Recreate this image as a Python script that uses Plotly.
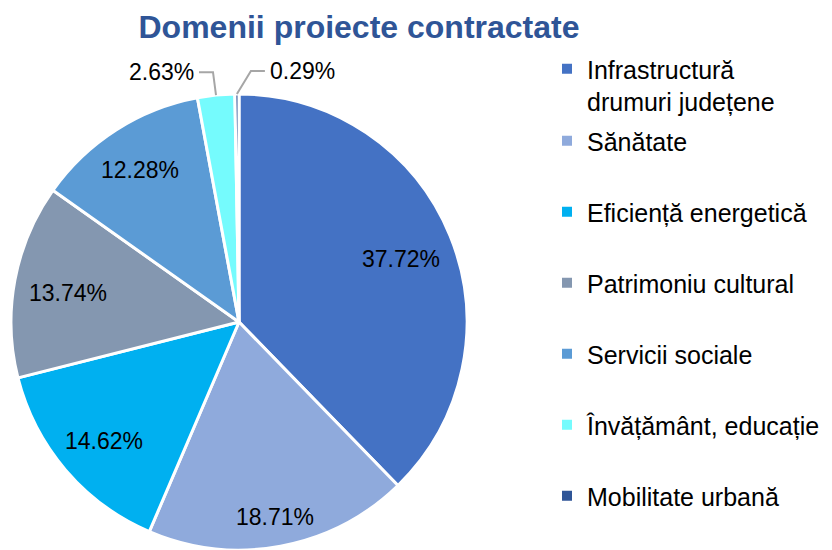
import math
import plotly.graph_objects as go

# ---- data ----
categories = [
    "Infrastructură<br>drumuri județene",
    "Sănătate",
    "Eficiență energetică",
    "Patrimoniu cultural",
    "Servicii sociale",
    "Învățământ, educație",
    "Mobilitate urbană",
]
shares = [37.72, 18.71, 14.62, 13.74, 12.28, 2.63, 0.29]
colors = ["#4472C4", "#8FAADC", "#00B0F0", "#8497B0", "#5B9BD5", "#75FBFD", "#2F5597"]
outside = [False, False, False, False, False, True, True]

W, H = 832, 550
FONT = "Liberation Sans, Arial, sans-serif"

# pie geometry (layout)
cx_px, R_px = 239, 228
dom_x = [(cx_px - R_px - 2) / W, (cx_px + R_px + 2) / W]
dom_y = [0, 2 * R_px / H]
cy_px = H - R_px

labels_txt = [f"{v:.2f}%" for v in shares]

fig = go.Figure()
fig.add_trace(go.Pie(
    labels=categories,
    values=shares,
    sort=False,
    direction="clockwise",
    rotation=0,
    marker=dict(colors=colors, line=dict(color="white", width=3)),
    textinfo="none",
    domain=dict(x=dom_x, y=dom_y),
    showlegend=False,
    hoverinfo="label+percent",
))

# legend entries (one per category) via empty marker traces
for i, (c, col) in enumerate(zip(categories, colors)):
    fig.add_trace(go.Scatter(
        x=[None], y=[None], mode="markers",
        marker=dict(symbol="square", size=10, color=col),
        name=c, legendgroup=f"g{i}",
        legend="legend" if i == 0 else "legend2",
        showlegend=True, hoverinfo="skip",
    ))

# data labels, anchored at each slice's mid-angle
LABEL_FONT = dict(family=FONT, size=23, color="black")
HALF_W, HALF_H, RIM_GAP = 40, 9, 13
total = sum(shares)
cum = 0
shapes = []
annotations = []
for i, v in enumerate(shares):
    mid = (cum + v / 2) / total * 360
    cum += v
    a = math.radians(mid)
    ux, uy = math.sin(a), -math.cos(a)
    if not outside[i]:
        # push the label box outward until its far corner is RIM_GAP inside the rim
        sx = HALF_W if ux >= 0 else -HALF_W
        sy = HALF_H if uy >= 0 else -HALF_H
        target = R_px - RIM_GAP
        b = ux * sx + uy * sy
        c = sx * sx + sy * sy - target * target
        d = -b + math.sqrt(b * b - c)
        annotations.append(dict(x=cx_px + d * ux, y=cy_px + d * uy + 3, xref="x", yref="y",
                                text=labels_txt[i], showarrow=False,
                                xanchor="center", yanchor="middle", font=LABEL_FONT))
        continue
    px = cx_px + R_px * ux
    py = cy_px + R_px * uy
    side = -1 if mid < 357 else 1
    ex = px + (-3 if side < 0 else 14)
    ey = py - 23
    hx = ex + 14 * side
    shapes.append(dict(type="path", xref="x", yref="y",
                       path=f"M{px:.1f},{py:.1f} L{ex:.1f},{ey:.1f} L{hx:.1f},{ey:.1f}",
                       line=dict(color="#A6A6A6", width=2)))
    annotations.append(dict(x=hx + 3 * side, y=ey, xref="x", yref="y",
                            text=labels_txt[i], showarrow=False,
                            xanchor="left" if side > 0 else "right", yanchor="middle",
                            font=LABEL_FONT))

LEG_FONT = dict(family=FONT, size=25, color="black")
fig.update_layout(
    width=W, height=H,
    margin=dict(l=0, r=0, t=0, b=0),
    paper_bgcolor="white", plot_bgcolor="rgba(0,0,0,0)",
    font=dict(family=FONT, color="black"),
    title=dict(text="<b>Domenii proiecte contractate</b>", x=359 / W, xanchor="center",
               y=1 - 27 / H, yanchor="middle", yref="container",
               font=dict(family=FONT, size=32, color="#2F5597")),
    xaxis=dict(visible=False, range=[0, W], domain=[0, 1], fixedrange=True),
    yaxis=dict(visible=False, range=[H, 0], domain=[0, 1], fixedrange=True),
    shapes=shapes,
    annotations=annotations,
    legend=dict(x=547 / W, y=1 - 46 / H, xanchor="left", yanchor="top",
                valign="top", font=LEG_FONT,
                itemsizing="trace", bgcolor="rgba(0,0,0,0)"),
    legend2=dict(x=547 / W, y=1 - 118 / H, xanchor="left", yanchor="top",
                 tracegroupgap=35.5, font=LEG_FONT,
                 itemsizing="trace", bgcolor="rgba(0,0,0,0)"),
    showlegend=True,
)

fig.write_html("out.html", config={"displayModeBar": False},
               post_script="document.body.style.margin='0';")
